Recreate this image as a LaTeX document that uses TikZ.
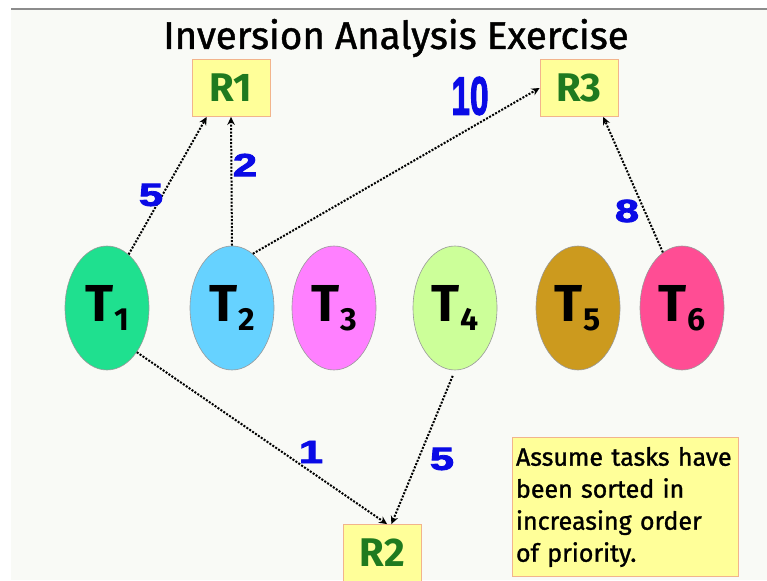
\documentclass[tikz,border=0pt]{standalone}
\usepackage{fontspec}
\setmainfont{Fira Sans}
\newfontfamily\heavyfont{Fira Sans}[FakeBold=1.2]
\newfontfamily\numfont{Liberation Sans}[FakeBold=2.5]
\usetikzlibrary{shapes.geometric,arrows.meta}

\definecolor{panel}{HTML}{F9FAF6}
\definecolor{boxfill}{HTML}{FFFF99}
\definecolor{boxline}{HTML}{F2B48C}
\definecolor{resgreen}{HTML}{1F7A1F}
\definecolor{wtblue}{HTML}{0A0AE6}
\definecolor{tone}{HTML}{1FE08F}
\definecolor{ttwo}{HTML}{66D2FF}
\definecolor{tthree}{HTML}{FF80FF}
\definecolor{tfour}{HTML}{CCFF99}
\definecolor{tfive}{HTML}{CC9A1E}
\definecolor{tsix}{HTML}{FF4D94}

% task label with lowered index
\newcommand\tlab[1]{T\kern1pt\raisebox{-9pt}{\fontsize{32}{32}\selectfont #1}}
% wide weight digits
\newcommand\wnum[1]{\scalebox{1.35}[1]{#1}}

\begin{document}
\begin{tikzpicture}[x=1pt,y=-1pt,
 task/.style={ellipse,draw=black!40,line width=0.6pt,minimum width=84pt,minimum height=124pt,inner sep=0pt,font=\fontsize{52}{52}\selectfont\bfseries},
 res/.style={draw=boxline,fill=boxfill,line width=0.8pt,minimum width=78pt,minimum height=57pt,inner sep=0pt,text=resgreen,font=\fontsize{40}{40}\selectfont\bfseries},
 wt/.style={text=wtblue,font=\numfont\fontsize{32}{32}\selectfont\bfseries,inner sep=0pt},
 lnk/.style={-{Stealth[length=8pt,width=7.5pt]},dash pattern=on 2pt off 1.5pt,line width=2pt}]
\useasboundingbox (0,0) rectangle (767,580);
\fill[white] (0,0) rectangle (767,580);
\fill[panel] (11,9) rectangle (767,580);
\draw[black!45,line width=2pt] (11,9) -- (767,9);

\node[font=\heavyfont\fontsize{38.5}{40}\selectfont] (title) at (396,38) {Inversion Analysis Exercise};

% resources
\node[res] (R1) at (231,88) {R1};
\node[res] (R3) at (579,88) {R3};
\node[res] (R2) at (382,553) {R2};

% tasks
\node[task,fill=tone] (T1) at (107,308) {\tlab{1}};
\node[task,fill=ttwo] (T2) at (232,308) {\tlab{2}};
\node[task,fill=tthree] (T3) at (334,308) {\tlab{3}};
\node[task,fill=tfour] (T4) at (455,308) {\tlab{4}};
\node[task,fill=tfive] (T5) at (578,308) {\tlab{5}};
\node[task,fill=tsix] (T6) at (682,308) {\tlab{6}};

% requests
\draw[lnk] (T1.68) -- (R1.-130);
\draw[lnk] (T2.north) -- (R1.south);
\draw[lnk] (T2.69) -- (R3.west);
\draw[lnk] (T6.109) -- (R3.-50);
\draw[lnk] (T1.-56) -- (R2.80);
\draw[lnk,shorten <=6pt] (T4.south) -- (R2.72);

% weights
\node[wt] (w1) at (151,195) {\wnum{5}};
\node[wt] (w2) at (245,165) {\wnum{2}};
\node[wt,font=\numfont\fontsize{54}{54}\selectfont\bfseries] (w3) at (470,96) {\scalebox{0.62}[1]{10}};
\node[wt] (w4) at (627,211) {\wnum{8}};
\node[wt] (w5) at (311,452) {\wnum{1}};
\node[wt] (w6) at (442,459) {\wnum{5}};

\node[draw=boxline,fill=boxfill,line width=0.8pt,minimum width=226pt,minimum height=139pt,
 text width=218pt,align=left,inner xsep=4pt,inner ysep=2pt,font=\heavyfont\fontsize{25}{32}\selectfont] (note) at (625,507)
 {Assume tasks have\\ been sorted in\\ increasing order\\ of priority.};
\end{tikzpicture}
\end{document}
